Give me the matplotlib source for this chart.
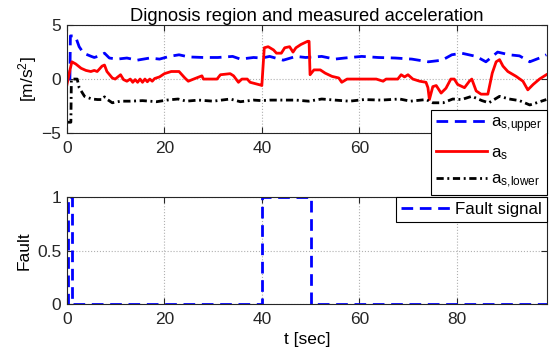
import matplotlib
matplotlib.use('Agg')
import matplotlib.pyplot as plt

plt.rcParams['font.family'] = ['Liberation Sans', 'DejaVu Sans']
plt.rcParams['mathtext.fontset'] = 'custom'
plt.rcParams['mathtext.rm'] = 'Liberation Sans'
plt.rcParams['mathtext.it'] = 'Liberation Sans'
plt.rcParams['font.size'] = 12.5

# measured acceleration a_s
red_t = [0, 0.5, 1.0, 1.8, 2.9, 3.9, 4.9, 5.6, 6.2, 7.2, 7.7, 8.2, 9.3, 9.9, 11, 11.6,
         12.3, 13, 13.5, 14, 14.5, 15, 15.5, 16, 16.5, 17, 17.5, 18, 19, 20, 21.4, 23,
         24.2, 24.9, 26, 27.7, 28, 30.8, 31.5, 33.5, 34.2, 35.2, 35.9, 37, 37.6, 39.7,
         40, 40.5, 41.3, 42.4, 43, 44, 44.7, 45.7, 46.4, 47, 48, 49.4, 49.7, 49.9, 50.7,
         52, 53, 54.4, 55.8, 56.4, 57.5, 63.5, 64.9, 65.5, 67.9, 68.6, 69.3, 70, 71, 72.4,
         73.7, 74.1, 74.4, 75.1, 75.8, 76.8, 77.8, 78.8, 79.5, 80.2, 81.6, 82.6, 83.1, 84,
         85, 86.4, 87.3, 88.1, 88.8, 89.5, 90.5, 92.2, 93.6, 94.6, 95.7, 97, 98.4]
red_y = [-0.5, 0.6, 1.6, 1.4, 1.0, 0.8, 0.7, 0.8, 0.7, 1.2, 1.3, 0.7, 0.1, 0.0, 0.4, -0.05,
         -0.2, 0.0, -0.3, -0.05, -0.3, 0.0, -0.3, 0.0, -0.25, 0.0, -0.2, 0.05, 0.2, 0.5, 0.7, 0.7,
         0.1, -0.2, 0.0, 0.3, 0.0, 0.0, 0.4, 0.5, 0.3, -0.3, 0.0, 0.0, -0.3, -0.55,
         -0.6, 2.9, 3.0, 2.7, 2.4, 2.4, 2.9, 3.0, 2.5, 2.9, 3.2, 3.5, 3.5, 0.4, 0.85,
         0.85, 0.55, 0.25, 0.1, -0.3, 0.0, 0.0, -0.2, 0.0, 0.0, 0.4, 0.2, 0.4, 0.0, -0.2,
         -0.3, -0.8, -1.9, -0.7, -0.6, -1.3, -0.85, 0.0, 0.0, -0.5, -0.8, -0.2, 0.0, -1.1,
         -1.4, -1.4, 0.55, 1.6, 1.8, 1.2, 0.7, 0.25, -0.2, -1.0, -0.5, 0.0, 0.4]

# upper diagnosis bound
up_t = [0, 0.6, 0.7, 1.7, 2.5, 3.4, 5, 5.6, 7, 7.7, 8.7, 10.3, 12.3, 14.4, 17, 19, 21, 23,
        25, 28, 31, 34, 35.6, 38.3, 40, 41.6, 44.4, 47, 49, 52.3, 55, 57, 60.5, 63.9, 67.4,
        70.8, 74.2, 77, 79, 81, 84, 86, 88.4, 90.8, 92.9, 95, 97, 98.4]
up_y = [0.0, 0.0, 4.0, 4.0, 3.0, 2.4, 2.1, 2.0, 2.2, 2.4, 1.95, 1.85, 1.95, 1.75, 1.95, 1.85, 2.1, 2.25,
        2.05, 2.0, 2.0, 2.1, 1.85, 2.0, 1.95, 2.1, 1.75, 2.1, 2.0, 2.1, 1.85, 1.95, 2.1, 2.0, 1.95,
        1.85, 1.6, 1.75, 2.25, 2.4, 2.1, 1.6, 2.5, 2.25, 2.15, 1.6, 1.95, 2.25]

# lower diagnosis bound
lo_t = [0, 0.8, 0.9, 2.1, 2.5, 3.6, 5.1, 6.3, 7.3, 7.7, 8.3, 9.3, 11, 13, 15.5, 18.4, 20.5,
        22.8, 24.5, 27, 30, 33.5, 35.6, 38.3, 40, 41.6, 45, 47, 49.6, 52.3, 55, 58, 61, 64.5,
        68.3, 70.5, 73.7, 75.1, 77.2, 79.2, 81, 83.1, 85.2, 86.6, 88.8, 90.8, 92.9, 95, 96.4, 98.4]
lo_y = [-4.0, -4.0, 0.0, 0.0, -0.8, -1.6, -1.85, -1.9, -1.9, -1.65, -1.9, -2.2, -2.05, -2.05, -2.0, -2.1, -1.95,
        -1.85, -2.05, -1.95, -2.05, -1.85, -2.1, -1.95, -2.0, -1.95, -1.95, -1.95, -2.05, -1.85, -1.95, -2.05, -1.9, -1.95,
        -1.85, -2.05, -1.9, -2.2, -2.2, -1.85, -1.9, -1.6, -2.0, -2.2, -1.6, -1.85, -2.0, -2.4, -2.2, -1.9]

# fault signal (step changes)
fault_t = [0, 0.2, 1.0, 40, 50, 98.5]
fault_y = [0, 1, 0, 1, 0, 0]

fig = plt.figure(figsize=(5.49, 3.62), dpi=100)
ax1 = fig.add_axes([0.122, 0.6326, 0.874, 0.298])
ax2 = fig.add_axes([0.122, 0.160, 0.874, 0.296])
ax1.set_zorder(3)

dash = (4.2, 2.4)
dashdot = (2.6, 1.3, 0.7, 1.3)

ax1.plot(up_t, up_y, color='blue', lw=2, dashes=dash, label=r'$\mathrm{a_{s,\!upper}}$')
ax1.plot(red_t, red_y, color='red', lw=2, label=r'$\mathrm{a_s}$')
ax1.plot(lo_t, lo_y, color='black', lw=2, dashes=dashdot, label=r'$\mathrm{a_{s,\!lower}}$')
ax1.set_xlim(0, 98.5)
ax1.set_ylim(-5, 5)
ax1.set_yticks([-5, 0, 5])
ax1.set_xticks([0, 20, 40, 60, 80])
ax1.set_ylabel(r'[m/s$^2$]', labelpad=2)
ax1.set_title('Dignosis region and measured acceleration', fontsize=13.2, pad=3)
leg1 = ax1.legend(loc='upper right', bbox_to_anchor=(1.0, 0.213), borderaxespad=0,
                  handlelength=3.0, handletextpad=0.2, borderpad=0.3, fancybox=False,
                  edgecolor='black', framealpha=1, labelspacing=0.6, fontsize=12.2)
leg1.get_frame().set_linewidth(0.8)

ax2.plot(fault_t, fault_y, color='blue', lw=2, dashes=dash, drawstyle='steps-post',
         label='Fault signal')
ax2.set_xlim(0, 98.5)
ax2.set_ylim(0, 1)
ax2.set_yticks([0, 0.5, 1])
ax2.set_yticklabels(['0', '0.5', '1'])
ax2.set_xticks([0, 20, 40, 60, 80])
ax2.set_ylabel('Fault', labelpad=4)
ax2.set_xlabel('t [sec]', labelpad=3)
leg2 = ax2.legend(loc='upper right', borderaxespad=0, handlelength=3.0, handletextpad=0.2,
                  borderpad=0.3, fancybox=False, edgecolor='black', framealpha=1, fontsize=12.2)
leg2.get_frame().set_linewidth(0.8)

for ax in (ax1, ax2):
    ax.grid(True, linestyle=':', color='#b0b0b0', linewidth=0.8)
    ax.tick_params(direction='in', top=True, right=True, length=4, colors='#262626',
                   labelcolor='#262626', labelsize=12.5)
    ax.tick_params(axis='x', pad=6)
    ax.tick_params(axis='y', pad=4)
    for s in ax.spines.values():
        s.set_linewidth(0.8)
        s.set_color('#262626')

fig.savefig('out.png', dpi=100)
